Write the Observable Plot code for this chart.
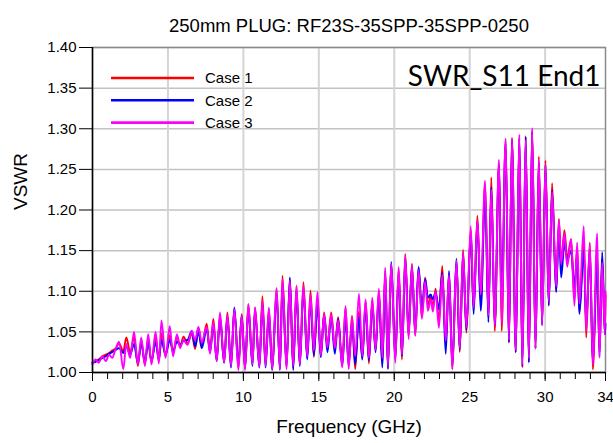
<!DOCTYPE html>
<html><head><meta charset="utf-8">
<script src="https://cdn.jsdelivr.net/npm/d3@7"></script>
<script src="https://cdn.jsdelivr.net/npm/@observablehq/plot@0.6"></script>
<style>
body{margin:0;background:#fff;}
#wrap{position:relative;width:613px;height:443px;font-family:"Liberation Sans",Arial,sans-serif;}
#legend{position:absolute;left:0;top:0;pointer-events:none;}
</style>
</head><body>
<div id="wrap"></div>
<script>
const titleText = "250mm PLUG: RF23S-35SPP-35SPP-0250";
const xLabel = "Frequency (GHz)";
const yLabel = "VSWR";
const noteText = "SWR_S11 End1";
const seriesNames = ["Case 1", "Case 2", "Case 3"];
const seriesColors = ["#ff0000", "#0000ff", "#ff00ff"];
const yTicks = [1.00, 1.05, 1.10, 1.15, 1.20, 1.25, 1.30, 1.35, 1.40];
const xTicks = [0, 5, 10, 15, 20, 25, 30, 34];
const xGrid = [5, 10, 15, 20, 25, 30];
const xMinor = [0,1,2,3,4,5,6,7,8,9,10,11,12,13,14,15,16,17,18,19,20,21,22,23,24,25,26,27,28,29,30,31,32,33,34];

const freq = [
0.00,0.20,0.40,0.66,0.88,1.10,1.30,1.55,1.76,2.04,
2.24,2.50,2.75,3.01,3.23,3.47,3.69,3.91,4.18,4.40,
4.57,4.84,5.12,5.34,5.60,5.80,6.03,6.30,6.58,6.80,
7.02,7.24,7.57,7.79,8.01,8.23,8.45,8.72,8.94,9.18,
9.40,9.67,9.89,10.11,10.33,10.60,10.77,11.06,11.26,11.47,
11.69,11.91,12.20,12.42,12.59,12.86,13.08,13.30,13.52,13.74,
13.98,14.23,14.45,14.67,14.91,15.13,15.35,15.57,15.82,16.06,
16.28,16.55,16.77,16.98,17.20,17.41,17.66,17.88,18.10,18.32,
18.54,18.76,18.98,19.21,19.40,19.58,19.80,20.07,20.29,20.51,
20.73,20.95,21.17,21.39,21.61,21.83,22.05,22.23,22.41,22.56,
22.74,22.96,23.18,23.41,23.63,23.85,24.12,24.34,24.56,24.78,
25.07,25.26,25.51,25.73,26.02,26.24,26.43,26.66,26.94,27.12,
27.38,27.60,27.80,28.05,28.29,28.49,28.71,28.92,29.14,29.36,
29.58,29.80,30.02,30.24,30.46,30.73,30.91,31.06,31.28,31.46,
31.72,31.94,32.12,32.27,32.56,32.72,32.96,33.16,33.45,33.60,
33.78,33.96,34.00];

const case1 = [
1.012,1.014,1.016,1.020,1.022,1.024,1.027,1.030,1.036,1.026,
1.043,1.025,1.043,1.008,1.040,1.010,1.042,1.012,1.044,1.014,
1.048,1.020,1.046,1.024,1.045,1.032,1.044,1.036,1.048,1.029,
1.055,1.032,1.060,1.026,1.066,1.016,1.070,1.013,1.074,1.010,
1.078,1.006,1.072,1.006,1.084,1.012,1.080,1.008,1.094,1.012,
1.078,1.004,1.103,1.005,1.119,1.006,1.115,1.006,1.106,1.010,
1.111,1.018,1.101,1.019,1.092,1.020,1.074,1.033,1.074,1.030,
1.068,1.010,1.080,1.008,1.070,1.004,1.075,1.018,1.088,1.011,
1.088,1.027,1.100,1.010,1.126,1.006,1.133,1.018,1.128,1.016,
1.146,1.045,1.134,1.046,1.128,1.068,1.117,1.082,1.095,1.080,
1.103,1.062,1.131,1.035,1.122,1.004,1.136,1.025,1.151,1.049,
1.175,1.078,1.193,1.085,1.232,1.068,1.240,1.051,1.258,1.051,
1.285,1.037,1.289,1.025,1.290,1.006,1.291,1.014,1.298,1.030,
1.266,1.060,1.261,1.084,1.233,1.100,1.189,1.134,1.175,1.140,
1.164,1.090,1.154,1.074,1.165,1.043,1.160,1.004,1.145,1.025,
1.140,1.047,1.095];

const case2 = [
1.012,1.013,1.015,1.018,1.020,1.023,1.025,1.028,1.030,1.024,
1.032,1.022,1.035,1.012,1.036,1.013,1.036,1.014,1.037,1.016,
1.040,1.022,1.040,1.026,1.038,1.034,1.039,1.040,1.051,1.032,
1.050,1.030,1.053,1.025,1.058,1.014,1.068,1.012,1.068,1.006,
1.080,1.010,1.070,1.005,1.078,1.008,1.076,1.006,1.084,1.006,
1.074,1.003,1.096,1.003,1.107,1.008,1.117,1.003,1.100,1.008,
1.102,1.016,1.088,1.021,1.084,1.019,1.071,1.025,1.068,1.023,
1.066,1.008,1.066,1.010,1.062,1.010,1.068,1.016,1.080,1.015,
1.085,1.025,1.095,1.006,1.122,1.004,1.136,1.016,1.122,1.020,
1.140,1.047,1.130,1.050,1.130,1.080,1.115,1.092,1.096,1.090,
1.098,1.078,1.123,1.023,1.125,1.008,1.140,1.028,1.145,1.052,
1.172,1.072,1.185,1.076,1.220,1.062,1.228,1.058,1.255,1.084,
1.282,1.037,1.285,1.025,1.288,1.008,1.290,1.012,1.296,1.030,
1.258,1.058,1.255,1.082,1.224,1.099,1.180,1.117,1.160,1.138,
1.150,1.105,1.145,1.072,1.150,1.060,1.150,1.012,1.140,1.020,
1.148,1.047,1.060];

const case3 = [
1.010,1.016,1.012,1.020,1.014,1.022,1.018,1.030,1.038,1.004,
1.035,1.018,1.050,1.010,1.043,1.008,1.047,1.010,1.050,1.011,
1.064,1.018,1.057,1.020,1.047,1.030,1.040,1.034,1.051,1.040,
1.056,1.037,1.056,1.023,1.062,1.014,1.074,1.012,1.070,1.008,
1.078,1.003,1.070,1.003,1.084,1.010,1.080,1.007,1.089,1.008,
1.080,1.004,1.104,1.004,1.115,1.004,1.113,1.008,1.107,1.010,
1.107,1.020,1.095,1.027,1.099,1.021,1.072,1.031,1.071,1.030,
1.064,1.006,1.082,1.004,1.068,1.020,1.097,1.020,1.090,1.018,
1.092,1.028,1.103,1.018,1.129,1.008,1.134,1.012,1.130,1.022,
1.144,1.041,1.132,1.045,1.126,1.066,1.112,1.076,1.090,1.075,
1.100,1.055,1.120,1.039,1.120,1.004,1.138,1.030,1.148,1.055,
1.180,1.080,1.188,1.096,1.236,1.070,1.225,1.058,1.262,1.060,
1.288,1.040,1.287,1.028,1.293,1.010,1.286,1.018,1.301,1.029,
1.262,1.058,1.256,1.088,1.222,1.106,1.187,1.134,1.171,1.130,
1.164,1.082,1.160,1.085,1.180,1.050,1.158,1.010,1.171,1.018,
1.135,1.047,1.100];

const seriesValues = [case1, case2, case3];
const rows = [];
seriesNames.forEach((name, i) => {
  freq.forEach((f, j) => rows.push({series: name, f, v: seriesValues[i][j]}));
});

const font = "'Liberation Sans', Arial, Helvetica, sans-serif";

const chart = Plot.plot({
  width: 613,
  height: 443,
  marginTop: 47,
  marginBottom: 71,
  marginLeft: 92,
  marginRight: 8,
  style: {fontFamily: font, background: "#fff", color: "#000"},
  x: {domain: [0, 34]},
  y: {domain: [1.0, 1.4]},
  color: {domain: seriesNames, range: seriesColors},
  marks: [
    Plot.gridY(yTicks, {stroke: "#c2c2c2", strokeOpacity: 1, strokeWidth: 1.5}),
    Plot.gridX(xGrid, {stroke: "#d4d4d4", strokeOpacity: 1, strokeWidth: 2}),
    Plot.frame({stroke: "#8a8a8a", strokeWidth: 1.5}),
    Plot.line(rows, {x: "f", y: "v", z: "series", stroke: "series", strokeWidth: 1.9, curve: "monotone-x"}),
    Plot.ruleX([0], {stroke: "#000", strokeWidth: 1.5}),
    Plot.ruleY([1.0], {stroke: "#000", strokeWidth: 1.5}),
    Plot.axisY(yTicks, {tickSize: 13, tickPadding: 3, tickFormat: d => d.toFixed(2), fontSize: 15, label: null}),
    Plot.axisX(xMinor, {tickSize: 7, tickFormat: () => "", label: null}),
    Plot.axisX(xTicks, {tickSize: 9, tickPadding: 10, fontSize: 15, label: null}),
    Plot.text([titleText], {frameAnchor: "top", dy: -29, fontSize: 18.5, fill: "#000"}),
    Plot.text([xLabel], {frameAnchor: "bottom", dy: 60, fontSize: 19, fill: "#000"}),
    Plot.text([yLabel], {frameAnchor: "left", rotate: -90, dx: -72, fontSize: 19, fill: "#000"}),
    Plot.text([noteText], {frameAnchor: "top-right", textAnchor: "end", dx: -5, dy: 19, fontSize: 28, fontFamily: "Lato, 'Open Sans', sans-serif", fill: "#000"})
  ]
});

const wrap = document.getElementById("wrap");
wrap.appendChild(chart);

// legend overlay (upper-left inside the plot)
const ns = "http://www.w3.org/2000/svg";
const leg = document.createElementNS(ns, "svg");
leg.setAttribute("id", "legend");
leg.setAttribute("width", 613);
leg.setAttribute("height", 443);
seriesNames.forEach((name, i) => {
  const yy = 78 + i * 22.3;
  const ln = document.createElementNS(ns, "line");
  ln.setAttribute("x1", 111); ln.setAttribute("x2", 194);
  ln.setAttribute("y1", yy); ln.setAttribute("y2", yy);
  ln.setAttribute("stroke", seriesColors[i]); ln.setAttribute("stroke-width", 2.6);
  leg.appendChild(ln);
  const tx = document.createElementNS(ns, "text");
  tx.setAttribute("x", 205); tx.setAttribute("y", yy);
  tx.setAttribute("dy", "0.1em");
  tx.setAttribute("font-size", 15);
  tx.setAttribute("font-family", font);
  tx.setAttribute("dominant-baseline", "middle");
  tx.textContent = name;
  leg.appendChild(tx);
});
wrap.appendChild(leg);
</script>
</body></html>
